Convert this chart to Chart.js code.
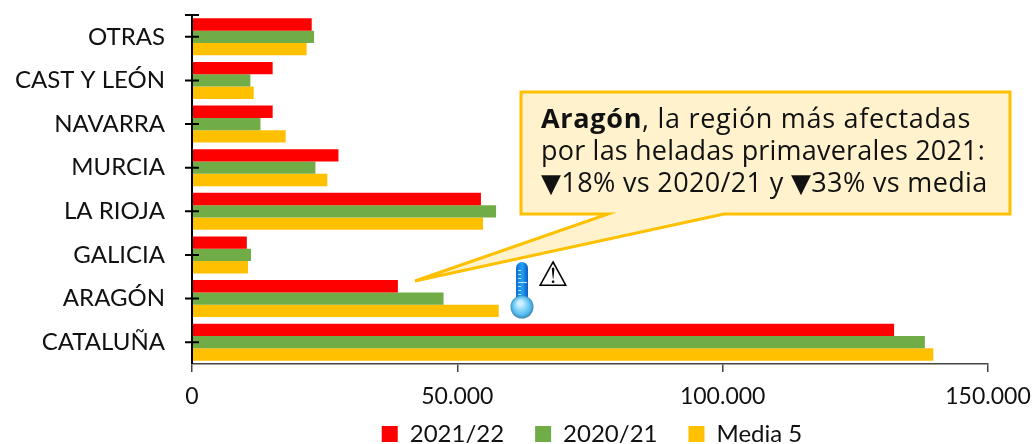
<!DOCTYPE html>
<html>
<head>
<meta charset="utf-8">
<style>
html, body { margin: 0; padding: 0; background: #fff; }
#wrap { width: 1033px; height: 444px; }
</style>
<script src="https://cdn.jsdelivr.net/npm/chart.js@4/dist/chart.umd.min.js"></script>
</head>
<body>
<div id="wrap"><canvas id="regionChart" width="1033" height="444"></canvas></div>
<script>
// chart values
const categories = ['OTRAS', 'CAST Y LEÓN', 'NAVARRA', 'MURCIA', 'LA RIOJA', 'GALICIA', 'ARAGÓN', 'CATALUÑA'];
const seriesNames = ['2021/22', '2020/21', 'Media 5'];
const values2122 = [22560, 15200, 15200, 27600, 54450, 10330, 38800, 132300];
const values2021 = [23000, 11000, 12900, 23250, 57300, 11120, 47400, 138100];
const valuesMedia = [21600, 11630, 17650, 25500, 54850, 10550, 57800, 139700];
const xTicks = [0, 50000, 100000, 150000];

const labelFont = 'Lato';

function formatThousands(v) {
    return String(v).replace(/\B(?=(\d{3})+$)/g, '.');
}

// crossing ticks on the category axis (chart.js only draws them outside)
const crossTicks = {
    id: 'crossTicks',
    afterDatasetsDraw(chart) {
        const c = chart.ctx, y = chart.scales.y, a = chart.chartArea;
        c.save();
        c.strokeStyle = '#000';
        c.lineWidth = 2;
        c.beginPath();
        c.moveTo(a.left, a.top - 1);
        c.lineTo(a.left, a.bottom);
        c.moveTo(a.left - 7, a.top);
        c.lineTo(a.left + 7, a.top);
        y.ticks.forEach((t, i) => {
            const p = y.getPixelForTick(i);
            c.moveTo(a.left - 7, p);
            c.lineTo(a.left + 7, p);
        });
        c.stroke();
        c.restore();
    }
};

// legend sits centred under the plot, not under the canvas;
// x axis keeps a short height for layout but its labels must not get clipped
const shiftLegend = {
    id: 'shiftLegend',
    afterLayout(chart) {
        chart.legend.left += 98;
        chart.legend.right += 98;
        chart.scales.x.bottom += 40;
    }
};

// draws a line made of [text, font] runs
function drawRuns(c, runs, x, y) {
    runs.forEach(r => {
        c.font = r[1];
        c.fillText(r[0], x, y);
        x += c.measureText(r[0]).width;
    });
}

// yellow callout, thermometer and warning sign
const callout = {
    id: 'callout',
    afterDraw(chart) {
        const c = chart.ctx;
        c.save();
        c.beginPath();
        c.moveTo(521, 92);
        c.lineTo(1010, 92);
        c.lineTo(1010, 214);
        c.lineTo(724, 214);
        c.lineTo(415, 281);
        c.lineTo(608, 214);
        c.lineTo(521, 214);
        c.closePath();
        c.fillStyle = '#FFF2CC';
        c.fill();
        c.strokeStyle = '#FFC000';
        c.lineWidth = 3;
        c.stroke();

        const body = '27px "Open Sans"';
        const arrow = '26px "DejaVu Sans"';
        c.fillStyle = '#111';
        c.textBaseline = 'alphabetic';
        c.textAlign = 'left';
        c.letterSpacing = '0.7px';
        drawRuns(c, [['Aragón', 'bold 27px "Open Sans"'], [', la región más afectadas', body]], 541, 128);
        c.letterSpacing = '0.2px';
        drawRuns(c, [['por las heladas primaverales 2021:', body]], 541, 160);
        c.letterSpacing = '0.35px';
        drawRuns(c, [['▼', arrow], ['18% vs 2020/21 y ', body], ['▼', arrow], ['33% vs media', body]], 541, 192);
        c.letterSpacing = '0px';

        // thermometer
        const tube = c.createLinearGradient(515, 0, 529, 0);
        tube.addColorStop(0, '#0A5FD0');
        tube.addColorStop(0.5, '#22A4F5');
        tube.addColorStop(1, '#0A4FB8');
        c.fillStyle = tube;
        c.beginPath();
        c.roundRect(516, 262, 12, 42, 6);
        c.fill();
        c.strokeStyle = '#BFE6FF';
        c.lineWidth = 1;
        c.beginPath();
        [270, 274, 278, 282, 286, 290, 294].forEach(p => {
            c.moveTo(518, p + 0.5);
            c.lineTo(p === 282 ? 527 : 521, p + 0.5);
        });
        c.stroke();
        const bulb = c.createRadialGradient(520, 303, 2, 522, 307, 12);
        bulb.addColorStop(0, '#CFF1FF');
        bulb.addColorStop(0.7, '#55BDF0');
        bulb.addColorStop(1, '#3C7FA8');
        c.fillStyle = bulb;
        c.beginPath();
        c.arc(522, 307, 11.5, 0, Math.PI * 2);
        c.fill();

        c.fillStyle = '#000';
        c.textAlign = 'center';
        c.font = '35px "DejaVu Sans"';
        c.fillText('⚠', 553, 286);
        c.restore();
    }
};

const ctx = document.getElementById('regionChart').getContext('2d');
new Chart(ctx, {
    type: 'bar',
    data: {
        labels: categories,
        datasets: [
            { label: seriesNames[0], data: values2122, backgroundColor: '#FF0000' },
            { label: seriesNames[1], data: values2021, backgroundColor: '#70AD47' },
            { label: seriesNames[2], data: valuesMedia, backgroundColor: '#FFC000' }
        ]
    },
    options: {
        indexAxis: 'y',
        responsive: false,
        animation: false,
        barPercentage: 1,
        categoryPercentage: 0.85,
        layout: { padding: { top: 15, right: 45, bottom: -12, left: 0 } },
        scales: {
            y: {
                // invisible ticks only to hold the labels away from the axis
                grid: { drawOnChartArea: false, tickLength: 27, color: 'rgba(0,0,0,0)' },
                border: { display: false },
                ticks: { color: '#111', font: { family: labelFont, size: 24 }, padding: 0, autoSkip: false },
                afterFit(scale) { scale.width = 192; scale.paddingTop = 0; scale.paddingBottom = 0; }
            },
            x: {
                min: 0,
                max: 150000,
                afterBuildTicks(scale) { scale.ticks = xTicks.map(v => ({ value: v })); },
                grid: { drawOnChartArea: false, tickLength: 8, color: '#444', lineWidth: 1.5 },
                border: { display: true, color: '#444', width: 1.5 },
                ticks: { color: '#111', font: { family: labelFont, size: 23 }, padding: 11, maxRotation: 0,
                    callback: v => formatThousands(v) },
                afterFit(scale) { scale.height = 27; scale.paddingLeft = 0; scale.paddingRight = 0; }
            }
        },
        plugins: {
            legend: {
                position: 'bottom',
                labels: { boxWidth: 16, boxHeight: 16, padding: 31, color: '#111', font: { family: labelFont, size: 24 } }
            },
            tooltip: { enabled: false }
        }
    },
    plugins: [crossTicks, shiftLegend, callout]
});
</script>
</body>
</html>
